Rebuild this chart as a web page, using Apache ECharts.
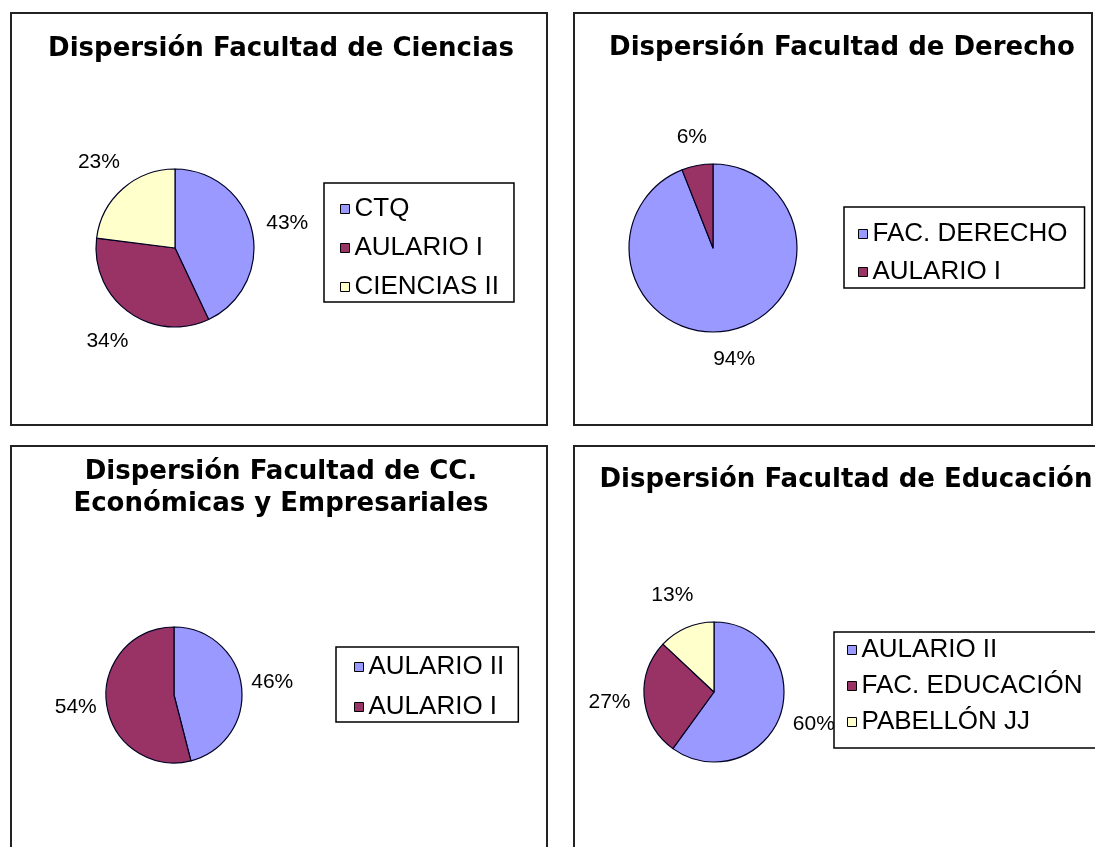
<!DOCTYPE html>
<html>
<head>
    <meta http-equiv="Content-Type" content="text/html; charset=UTF-8">
    <title>Dispersión Facultades</title>
    <script src="https://cdn.jsdelivr.net/npm/echarts@6/dist/echarts.min.js"></script>
    <style type="text/css">
        *{padding:0;margin:0}
        body{background:#fff;overflow:hidden}
        #chart{width:1095px;height:847px}
    </style>
</head>
<body>
<div id="chart"></div>

<script type="text/javascript">
    // datos de cada facultad (porcentajes)
    var cienciasNames = ['CTQ', 'AULARIO I', 'CIENCIAS II'];
    var cienciasValues = [43, 34, 23];
    var derechoNames = ['FAC. DERECHO', 'AULARIO I'];
    var derechoValues = [94, 6];
    var economicasNames = ['AULARIO II', 'AULARIO I'];
    var economicasValues = [46, 54];
    var educacionNames = ['AULARIO II', 'FAC. EDUCACIÓN', 'PABELLÓN JJ'];
    var educacionValues = [60, 27, 13];

    var titleCiencias = 'Dispersión Facultad de Ciencias';
    var titleDerecho = 'Dispersión Facultad de Derecho';
    var titleEconomicas = 'Dispersión Facultad de CC.\nEconómicas y Empresariales';
    var titleEducacion = 'Dispersión Facultad de Educación';

    var palette = ['#9999FF', '#993366', '#FFFFCC'];

    function sliceData(names, values) {
        return names.map(function (n, i) {
            return {name: n, value: values[i], itemStyle: {color: palette[i]}};
        });
    }
    function ghostData(names, values) {
        return names.map(function (n, i) {
            return {name: n, value: values[i]};
        });
    }

    // la tarta
    function pie(names, values, center, r) {
        return {
            type: 'pie',
            center: center,
            radius: [0, r],
            startAngle: 90,
            clockwise: true,
            avoidLabelOverlap: false,
            emphasis: {disabled: true},
            label: {show: false},
            labelLine: {show: false},
            itemStyle: {borderColor: '#000022', borderWidth: 1.2},
            data: sliceData(names, values)
        };
    }
    // anillo invisible, solo para colocar los porcentajes fuera
    function pieLabels(names, values, center, r, gap) {
        return {
            type: 'pie',
            silent: true,
            center: center,
            radius: [r, r + 2 * gap],
            startAngle: 90,
            clockwise: true,
            avoidLabelOverlap: false,
            emphasis: {disabled: true},
            itemStyle: {color: 'rgba(0,0,0,0)', borderWidth: 0},
            label: {
                show: true,
                position: 'inside',
                formatter: '{c}%',
                color: '#000',
                fontSize: 21,
                fontFamily: 'Liberation Sans, Arial',
                textBorderWidth: 0
            },
            labelLine: {show: false},
            data: ghostData(names, values)
        };
    }

    function title(text, x, y, lh) {
        return {
            text: text,
            left: x,
            top: y,
            padding: 0,
            textAlign: 'center',
            textStyle: {
                fontFamily: 'DejaVu Sans',
                fontWeight: 'bold',
                fontSize: 26,
                lineHeight: lh || 32,
                color: '#000'
            }
        };
    }

    function legend(names, x, y, gap, pad) {
        return {
            data: names,
            orient: 'vertical',
            left: x,
            top: y,
            padding: pad,
            itemGap: gap,
            itemWidth: 9,
            itemHeight: 9,
            icon: 'rect',
            selectedMode: false,
            borderColor: '#000',
            borderWidth: 1.5,
            borderRadius: 0,
            backgroundColor: '#fff',
            itemStyle: {borderColor: '#000', borderWidth: 1},
            textStyle: {fontFamily: 'Liberation Sans, Arial', fontSize: 26, color: '#000'}
        };
    }

    function frame(x, y, w, h) {
        return {
            type: 'rect',
            shape: {x: x, y: y, width: w, height: h},
            style: {fill: 'none', stroke: '#222', lineWidth: 2},
            silent: true
        };
    }

    var option = {
        animation: false,
        backgroundColor: '#fff',
        graphic: [
            frame(11, 13, 536, 412),
            frame(574, 13, 518, 412),
            frame(11, 446, 536, 420),
            frame(574, 446, 540, 420)
        ],
        title: [
            title(titleCiencias, 281, 33),
            title(titleDerecho, 842, 32),
            title(titleEconomicas, 281, 456),
            title(titleEducacion, 846, 464)
        ],
        legend: [
            legend(cienciasNames, 324, 183, 13, [13, 15, 2, 16]),
            legend(derechoNames, 844, 207, 12, [14, 17, 3, 14]),
            legend(economicasNames, 336, 647, 14, [7, 14, 2, 18]),
            legend(educacionNames, 834, 632, 10, [5, 30, 13, 13])
        ],
        series: [
            pie(cienciasNames, cienciasValues, [175, 248], 79),
            pie(derechoNames, derechoValues, [713, 248], 84),
            pie(economicasNames, economicasValues, [174, 695], 68),
            pie(educacionNames, educacionValues, [714, 692], 70),
            pieLabels(cienciasNames, cienciasValues, [175, 248], 79, 33),
            pieLabels(derechoNames, derechoValues, [713, 248], 84, 26),
            pieLabels(economicasNames, economicasValues, [174, 695], 68, 28),
            pieLabels(educacionNames, educacionValues, [714, 692], 70, 32)
        ]
    };

    var chart = echarts.init(document.getElementById('chart'));
    chart.setOption(option);
</script>
</body>
</html>
